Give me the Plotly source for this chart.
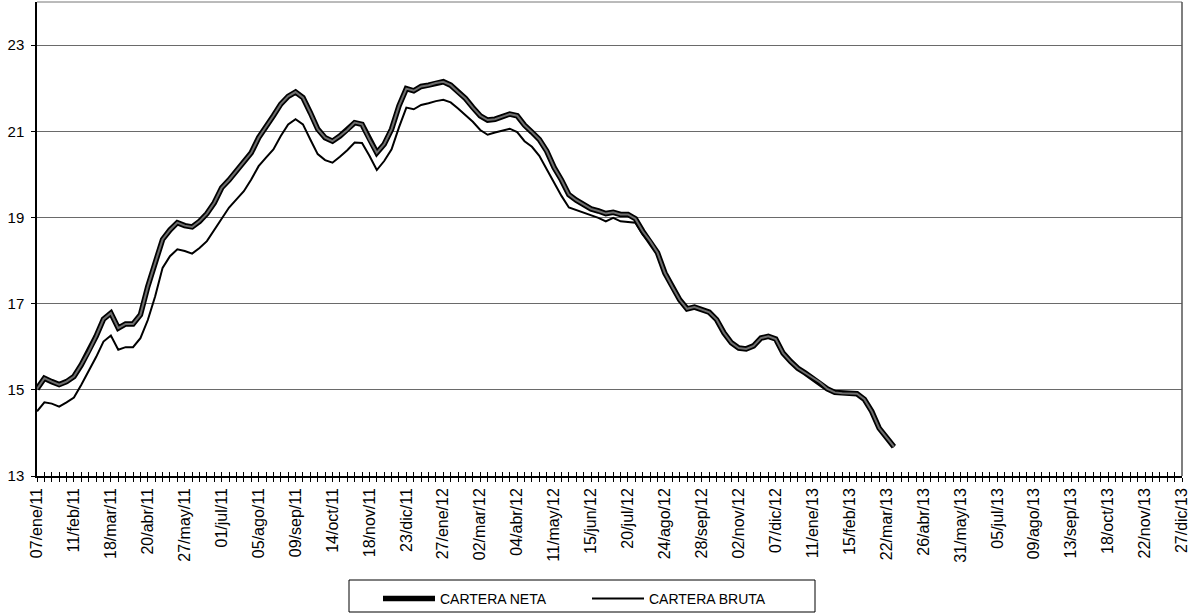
import plotly.graph_objects as go

# Weekly observations starting 07/ene/11 (index = week number)
cartera_neta = [
    15.02, 15.27, 15.19, 15.12, 15.19, 15.31, 15.58, 15.89, 16.24, 16.64,
    16.78, 16.43, 16.53, 16.53, 16.74, 17.40, 17.95, 18.49, 18.71, 18.88,
    18.81, 18.78, 18.91, 19.09, 19.34, 19.69, 19.87, 20.08, 20.27, 20.50,
    20.85, 21.09, 21.36, 21.63, 21.81, 21.91, 21.78, 21.43, 21.05, 20.85,
    20.77, 20.89, 21.03, 21.20, 21.16, 20.81, 20.50, 20.70, 21.05, 21.59,
    21.99, 21.94, 22.04, 22.07, 22.12, 22.15, 22.07, 21.91, 21.76, 21.55,
    21.36, 21.26, 21.28, 21.34, 21.40, 21.36, 21.14, 20.98, 20.81, 20.54,
    20.16, 19.87, 19.53, 19.40, 19.30, 19.20, 19.15, 19.09, 19.12, 19.07,
    19.07, 18.97, 18.68, 18.45, 18.18, 17.71, 17.39, 17.09, 16.88, 16.92,
    16.86, 16.80, 16.63, 16.32, 16.09, 15.97, 15.95, 16.02, 16.20, 16.24,
    16.18, 15.85, 15.66, 15.50, 15.39, 15.27, 15.17, 15.02, 14.94, 14.92,
    14.92, 14.91, 14.78, 14.50, 14.11, 13.90, 13.68,
]

cartera_bruta = [
    14.50, 14.71, 14.68, 14.61, 14.71, 14.82, 15.12, 15.43, 15.76, 16.12,
    16.26, 15.93, 15.99, 15.99, 16.20, 16.62, 17.17, 17.83, 18.10, 18.26,
    18.22, 18.16, 18.29, 18.45, 18.72, 18.99, 19.23, 19.42, 19.61, 19.88,
    20.19, 20.39, 20.58, 20.89, 21.16, 21.28, 21.16, 20.81, 20.47, 20.33,
    20.27, 20.41, 20.56, 20.74, 20.73, 20.43, 20.10, 20.31, 20.58, 21.09,
    21.55, 21.51, 21.61, 21.65, 21.70, 21.73, 21.67, 21.53, 21.37, 21.22,
    21.03, 20.92, 20.97, 21.02, 21.06, 20.98, 20.77, 20.64, 20.43, 20.12,
    19.81, 19.50, 19.23, 19.17, 19.11, 19.05, 18.99, 18.91, 18.99, 18.91,
    18.89, 18.88, 18.60, 18.40, 18.15, 17.70, 17.38, 17.08, 16.87, 16.91,
    16.85, 16.79, 16.62, 16.31, 16.08, 15.96, 15.94, 16.01, 16.19, 16.23,
    16.17, 15.84, 15.65, 15.49, 15.38, 15.26, 15.16, 15.01, 14.93, 14.91,
    14.91, 14.90, 14.77, 14.49, 14.10, 13.89, 13.67,
]

# Tick labels, one every 5 weeks
tick_labels = [
    "07/ene/11", "11/feb/11", "18/mar/11", "20/abr/11", "27/may/11", "01/jul/11",
    "05/ago/11", "09/sep/11", "14/oct/11", "18/nov/11", "23/dic/11", "27/ene/12",
    "02/mar/12", "04/abr/12", "11/may/12", "15/jun/12", "20/jul/12", "24/ago/12",
    "28/sep/12", "02/nov/12", "07/dic/12", "11/ene/13", "15/feb/13", "22/mar/13",
    "26/abr/13", "31/may/13", "05/jul/13", "09/ago/13", "13/sep/13", "18/oct/13",
    "22/nov/13", "27/dic/13",
]

weeks = list(range(len(cartera_neta)))
label_step = 5
x_max = label_step * (len(tick_labels) - 1)
alias = {str(k * label_step): lab for k, lab in enumerate(tick_labels)}

FONT = "Arial, Liberation Sans, sans-serif"
W, H = 1192, 613

fig = go.Figure()

fig.add_trace(go.Scatter(
    x=weeks, y=cartera_bruta, mode="lines", name="CARTERA BRUTA",
    line=dict(color="#000000", width=2), legendrank=2,
))
fig.add_trace(go.Scatter(
    x=weeks, y=cartera_neta, mode="lines", name="CARTERA NETA",
    line=dict(color="#000000", width=5.5), legendrank=1,
))
fig.add_trace(go.Scatter(
    x=weeks, y=cartera_neta, mode="lines", name="CARTERA NETA",
    line=dict(color="#6e6e6e", width=2), showlegend=False, hoverinfo="skip",
))
# empty trace only to activate the overlay axis carrying the inner tick halves
fig.add_trace(go.Scatter(
    x=[], y=[], xaxis="x2", mode="lines", showlegend=False, hoverinfo="skip",
))

fig.update_layout(
    width=W, height=H,
    margin=dict(l=37, r=10, t=2, b=137, autoexpand=False),
    paper_bgcolor="white", plot_bgcolor="white",
    font=dict(family=FONT, size=15, color="black"),
    showlegend=True,
    legend=dict(
        orientation="h",
        xref="container", yref="container",
        x=378 / W, xanchor="left",
        y=1 - 583 / H, yanchor="top",
        borderwidth=0, bgcolor="rgba(0,0,0,0)",
        font=dict(size=14, family=FONT),
        itemwidth=52,
        entrywidth=142,
        traceorder="normal",
    ),
    xaxis=dict(
        range=[0, x_max],
        tickmode="linear", tick0=0, dtick=label_step,
        labelalias=alias,
        tickangle=-90,
        ticks="outside", ticklen=4, tickcolor="black", tickwidth=1,
        minor=dict(ticks="outside", ticklen=4, dtick=1, tick0=0,
                   tickcolor="black", tickwidth=1, showgrid=False),
        showgrid=False, zeroline=False,
        showline=True, linecolor="black", linewidth=1.5,
        tickfont=dict(size=16, family=FONT),
        automargin=False,
    ),
    xaxis2=dict(
        overlaying="x", anchor="y", side="bottom",
        range=[0, x_max],
        tickmode="linear", tick0=0, dtick=label_step,
        ticks="inside", ticklen=4, tickcolor="black", tickwidth=1,
        minor=dict(ticks="inside", ticklen=4, dtick=1, tick0=0,
                   tickcolor="black", tickwidth=1, showgrid=False),
        showticklabels=False, showgrid=False, zeroline=False, showline=False,
        automargin=False,
    ),
    yaxis=dict(
        range=[13, 24],
        tickmode="linear", tick0=13, dtick=2,
        ticks="outside", ticklen=4, tickcolor="black",
        showgrid=True, gridcolor="#6a6a6a", gridwidth=1,
        zeroline=False,
        showline=True, linecolor="black", linewidth=1.5,
        tickfont=dict(size=15, family=FONT),
        ticklabelstandoff=4,
        automargin=False,
    ),
    shapes=[
        dict(type="line", xref="paper", yref="paper", x0=0, x1=1, y0=1, y1=1,
             line=dict(color="#777777", width=1)),
        dict(type="line", xref="paper", yref="paper", x0=1, x1=1, y0=0, y1=1,
             line=dict(color="#555555", width=1.5)),
        # legend frame
        dict(type="rect", xref="paper", yref="paper",
             x0=(349 - 37) / (W - 47), x1=(815 - 37) / (W - 47),
             y0=(H - 137 - 612) / (H - 139), y1=(H - 137 - 580) / (H - 139),
             line=dict(color="black", width=1), fillcolor="rgba(0,0,0,0)",
             layer="above"),
    ],
)

fig.write_html(
    "out.html",
    config={"displayModeBar": False},
    post_script="document.body.style.margin='0px';document.body.style.overflow='hidden';",
)
